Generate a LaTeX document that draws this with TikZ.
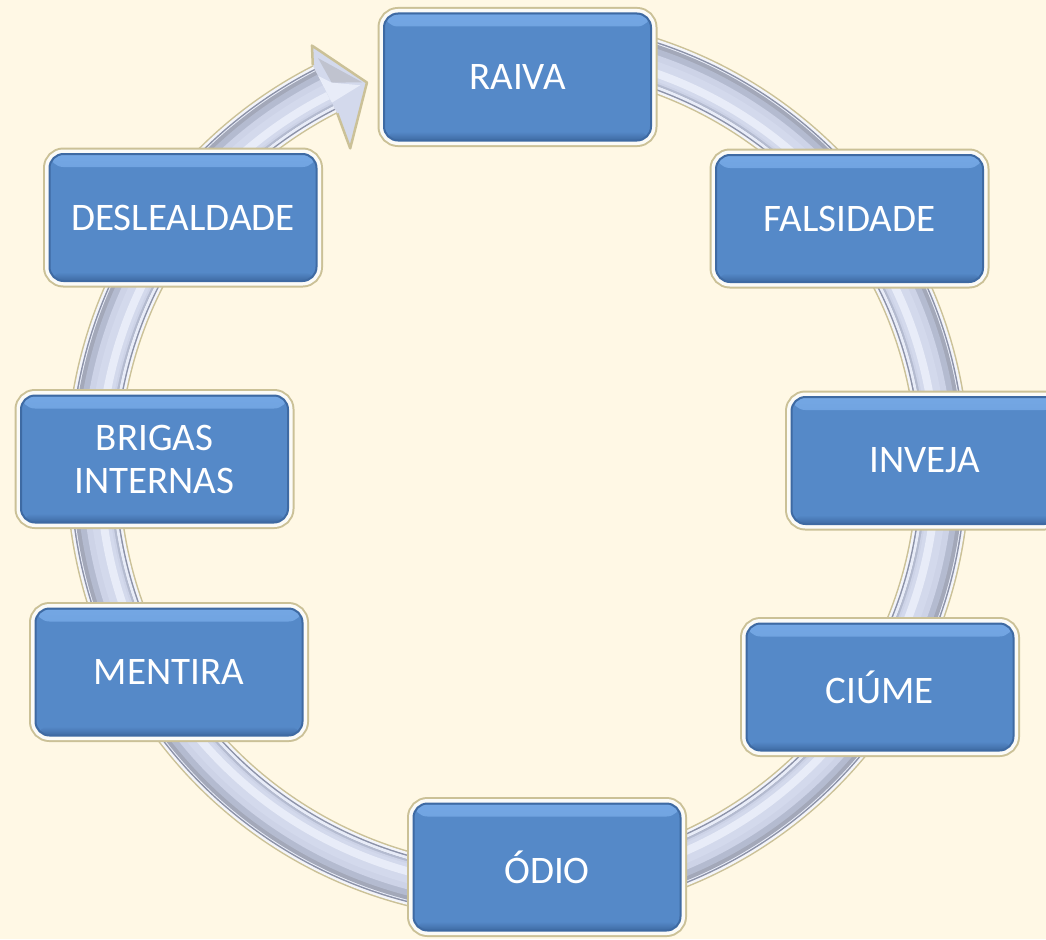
\documentclass[tikz,border=0pt]{standalone}
\usepackage{fontspec}
\setmainfont{Carlito}
\definecolor{bg}{HTML}{FFF8E5}
\definecolor{tanc}{HTML}{CBC197}
\definecolor{boxrim}{HTML}{FBFBF8}
\definecolor{boxblue}{HTML}{5589C8}
\definecolor{boxdark}{HTML}{3E6AA3}
\definecolor{boxlight}{HTML}{74A7E4}
\definecolor{ringwhite}{HTML}{F4F5FA}
\definecolor{ringdark}{HTML}{8C92A8}
\definecolor{ringmid}{HTML}{B4BBD0}
\definecolor{ringlight}{HTML}{D3D9EC}
\definecolor{ringhi}{HTML}{E8ECF8}
\begin{document}
\begin{tikzpicture}[x=1pt,y=-1pt,
  box/.style={rectangle, rounded corners=14pt, minimum width=267pt, minimum height=127pt, inner sep=0pt,
    preaction={draw=tanc, line width=13pt},
    preaction={draw=boxrim, line width=9pt},
    fill=boxblue, draw=boxdark, line width=2pt,
    text=white, font=\fontsize{39}{43}\selectfont, align=center,
    path picture={
      \shade[top color=boxlight, bottom color=boxblue]
        ([yshift=-1pt]path picture bounding box.north west) rectangle ([yshift=-13pt]path picture bounding box.north east);
      \shade[top color=boxblue, bottom color=boxdark]
        ([yshift=9pt]path picture bounding box.south west) rectangle (path picture bounding box.south east);
    }},
  headline/.style={tanc, line width=2.5pt, line join=round},
]
\useasboundingbox (0,0) rectangle (1046,939);
\clip (0,0) rectangle (1046,939);
\fill[bg] (0,0) rectangle (1046,939);
\coordinate (c) at (518,468);

% circular arrow
\begin{scope}[shift={(c)}]
  \foreach \r/\w/\col in {425/54/tanc, 425/51/ringwhite, 425/46/ringdark, 425/43/ringhi, 426/39/ringdark!80, 424/35/ringmid, 422/27/ringlight!80!ringmid, 420/19/ringlight, 418/8/ringhi} {
    \draw[line width=\w pt, \col] (-100:\r) arc[start angle=-100, end angle=243, radius=\r];
  }
  \fill[ringlight] (243:452) -- (244:470) -- (248.6:414) -- (242.3:361) -- (243:398) -- cycle;
  \fill[ringdark!55] (244:456) -- (248:416) -- (244.2:428) -- cycle;
  \fill[ringhi] (243:440) -- (244.2:428) -- (247.6:414) -- (243:410) -- cycle;
  \draw[headline] (243:452) -- (244:470) -- (248.6:414) -- (242.3:361) -- (243:398);
\end{scope}

% boxes
\node[box] (raiva) at (517.5,77) {RAIVA};
\node[box] (falsidade) at (849.5,218.5) {FALSIDADE};
\node[box] (inveja) at (925,460.5) {INVEJA};
\node[box] (ciume) at (880,687) {CIÚME};
\node[box] (odio) at (547,867) {ÓDIO};
\node[box] (mentira) at (169,672) {MENTIRA};
\node[box] (brigas) at (154.5,459) {BRIGAS\\INTERNAS};
\node[box] (deslealdade) at (183,217.5) {DESLEALDADE};
\end{tikzpicture}
\end{document}
